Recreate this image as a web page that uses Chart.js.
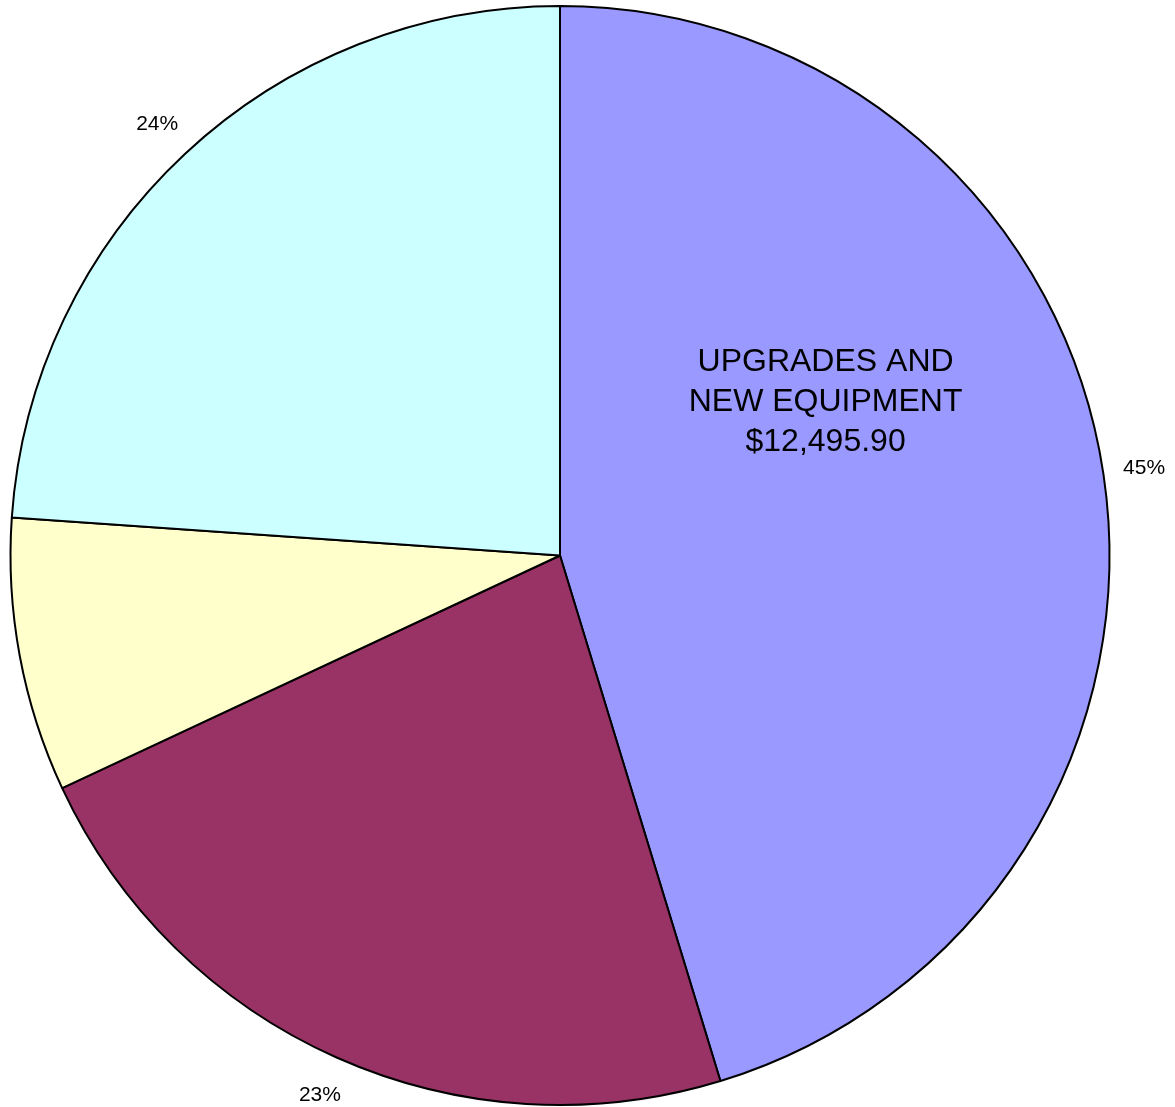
<!DOCTYPE html>
<html>
<head>
<meta charset="utf-8">
<script src="https://cdn.jsdelivr.net/npm/chart.js@4.4.0/dist/chart.umd.min.js"></script>
<style>
  html, body { margin: 0; padding: 0; background: #fff; }
  #wrap { width: 1175px; height: 1107px; }
</style>
</head>
<body>
<div id="wrap"><canvas id="pie"></canvas></div>
<script>
// slice amounts, clockwise from 12 o'clock (only the first one is printed on the chart)
const categories = ["UPGRADES AND NEW EQUIPMENT", "", "", ""];
const amounts = [12495.90, 6280, 2224, 6594];
const percentLabels = ["45%", "23%", "8%", "24%"];
const colors = ["#9999ff", "#993366", "#ffffcc", "#ccffff"];

const labelPlugin = {
  id: "pieLabels",
  afterDatasetsDraw(chart) {
    const ctx = chart.ctx;
    const arcs = chart.getDatasetMeta(0).data;
    ctx.save();
    ctx.fillStyle = "#000";
    ctx.textAlign = "center";
    ctx.textBaseline = "middle";

    // percentages just outside the rim
    ctx.font = "21px 'Liberation Sans', Arial, sans-serif";
    arcs.forEach((arc, i) => {
      const p = arc.getProps(["x", "y", "startAngle", "endAngle", "outerRadius"], true);
      const mid = (p.startAngle + p.endAngle) / 2;
      const r = p.outerRadius + 41;
      ctx.fillText(percentLabels[i], p.x + Math.cos(mid) * r, p.y + Math.sin(mid) * r);
    });

    // name and amount inside the big slice
    const a = arcs[0].getProps(["x", "y", "startAngle", "endAngle", "outerRadius"], true);
    const ang = a.startAngle + (a.endAngle - a.startAngle) * 0.366;
    const rr = a.outerRadius * 0.56;
    const cx = a.x + Math.cos(ang) * rr;
    const cy = a.y + Math.sin(ang) * rr;
    ctx.font = "32px 'Liberation Sans', Arial, sans-serif";
    const lines = ["UPGRADES AND", "NEW EQUIPMENT", "$" + amounts[0].toLocaleString("en-US", { minimumFractionDigits: 2 })];
    lines.forEach((t, k) => ctx.fillText(t, cx, cy + 2 + (k - 1) * 40));
    ctx.restore();
  }
};

new Chart(document.getElementById("pie"), {
  type: "pie",
  data: {
    labels: categories,
    datasets: [
      {
        data: amounts,
        backgroundColor: colors,
        borderColor: "#000",
        borderWidth: 2,
      },
    ],
  },
  options: {
    responsive: true,
    maintainAspectRatio: false,
    animation: false,
    layout: { padding: { left: 0, right: 55, top: 5, bottom: 1 } },
    plugins: {
      legend: { display: false },
      tooltip: { enabled: false },
    },
  },
  plugins: [labelPlugin],
});
</script>
</body>
</html>
